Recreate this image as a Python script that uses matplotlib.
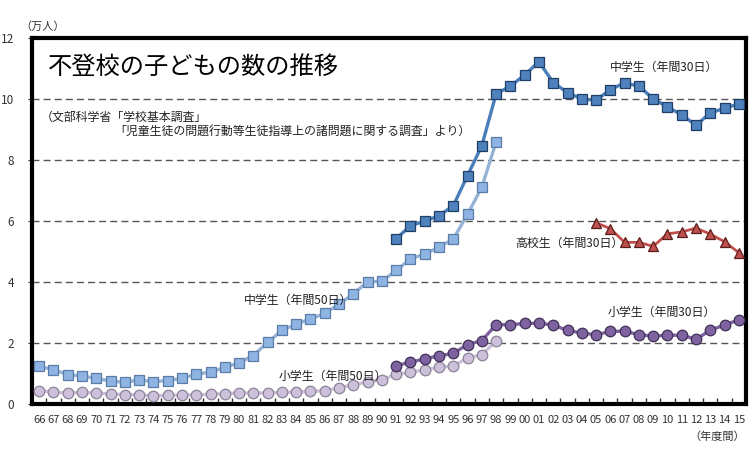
import matplotlib.pyplot as plt
from matplotlib.ticker import FixedLocator
import numpy as np

plt.rcParams['font.family'] = ['Noto Sans CJK JP', 'DejaVu Sans']

# 年度ラベル (1966〜2015)
years = ['66', '67', '68', '69', '70', '71', '72', '73', '74', '75',
         '76', '77', '78', '79', '80', '81', '82', '83', '84', '85',
         '86', '87', '88', '89', '90', '91', '92', '93', '94', '95',
         '96', '97', '98', '99', '00', '01', '02', '03', '04', '05',
         '06', '07', '08', '09', '10', '11', '12', '13', '14', '15']

# 中学生（年間50日） 1966-1998  単位：万人
jhs50 = [1.23, 1.13, 0.96, 0.92, 0.84, 0.75, 0.71, 0.79, 0.73, 0.77,
         0.84, 0.98, 1.04, 1.20, 1.35, 1.59, 2.02, 2.41, 2.62, 2.79,
         2.97, 3.27, 3.61, 4.01, 4.02, 4.38, 4.75, 4.92, 5.14, 5.41,
         6.22, 7.11, 8.59]
# 小学生（年間50日） 1966-1998
es50 = [0.44, 0.39, 0.36, 0.38, 0.36, 0.33, 0.31, 0.30, 0.27, 0.28,
        0.30, 0.30, 0.32, 0.34, 0.37, 0.36, 0.36, 0.38, 0.40, 0.41,
        0.44, 0.53, 0.63, 0.72, 0.80, 0.97, 1.04, 1.12, 1.20, 1.25,
        1.50, 1.62, 2.06]
# 中学生（年間30日） 1991-2015
jhs30 = [5.42, 5.84, 6.00, 6.17, 6.50, 7.49, 8.47, 10.17, 10.42, 10.79,
         11.22, 10.54, 10.21, 10.00, 9.96, 10.31, 10.53, 10.42, 10.01, 9.74,
         9.48, 9.14, 9.54, 9.70, 9.84]
# 小学生（年間30日） 1991-2015
es30 = [1.26, 1.37, 1.48, 1.58, 1.66, 1.95, 2.08, 2.60, 2.60, 2.64,
        2.65, 2.59, 2.41, 2.33, 2.27, 2.38, 2.39, 2.27, 2.23, 2.25,
        2.26, 2.12, 2.42, 2.59, 2.76]
# 高校生（年間30日） 2005-2015
hs30 = [5.94, 5.75, 5.30, 5.30, 5.17, 5.58, 5.64, 5.77, 5.57, 5.32, 4.96]

x_all = np.arange(len(years))
x50 = x_all[:len(jhs50)]
x30 = x_all[years.index('91'):]
xhs = x_all[years.index('05'):]

fig = plt.figure(figsize=(7.54, 4.54), dpi=100)
ax = fig.add_axes([32 / 754, 1 - 404 / 454, 714 / 754, 366 / 454])

for yv in [2, 4, 6, 8, 10]:
    ax.axhline(yv, color='#555555', lw=1.0, ls=(0, (5, 3)), zorder=1)

ax.plot(x50, jhs50, color='#95B3D7', lw=2.4, marker='s', ms=6.8,
        mfc='#8DB4E2', mec='#5A7CA6', mew=0.9, zorder=3)
ax.plot(x50, es50, color='#CCC0DA', lw=2.4, marker='o', ms=7.6,
        mfc='#CCC0DA', mec='#8A8296', mew=0.9, zorder=3)
ax.plot(x30, jhs30, color='#4A7EBB', lw=2.4, marker='s', ms=6.8,
        mfc='#4F81BD', mec='#1F3F66', mew=0.9, zorder=4)
ax.plot(x30, es30, color='#7F63A1', lw=2.4, marker='o', ms=7.6,
        mfc='#7F63A1', mec='#3F2F55', mew=0.9, zorder=4)
ax.plot(xhs, hs30, color='#C0504D', lw=2.0, marker='^', ms=7.8,
        mfc='#C0504D', mec='#5A1E1C', mew=0.9, zorder=4)

ax.set_xlim(-0.5, len(years) - 0.5)
ax.set_ylim(0, 12)
ax.set_yticks([0, 2, 4, 6, 8, 10, 12])
ax.set_xticks(x_all)
ax.set_xticklabels(years)
ax.xaxis.set_minor_locator(FixedLocator(x_all[:-1] + 0.5))
ax.tick_params(axis='x', which='major', length=0, labelsize=8, pad=8,
               colors='#333333')
ax.tick_params(axis='x', which='minor', direction='in', length=4,
               width=1, color='#333333')
ax.tick_params(axis='y', length=3, labelsize=8.5, pad=10, colors='#333333')

for sp in ax.spines.values():
    sp.set_linewidth(3)
    sp.set_color('black')

t = ax.transAxes
fig.text(20 / 754, 1 - 27 / 454, '（万人）', fontsize=8, va='center',
         color='#333333')
ax.text(0.022, 0.921, '不登校の子どもの数の推移', transform=t, fontsize=17.5,
        va='center', ha='left')
ax.text(0.012, 0.784, '（文部科学省「学校基本調査」', transform=t,
        fontsize=8.6, va='center', ha='left', color='#222222')
ax.text(0.115, 0.743, '「児童生徒の問題行動等生徒指導上の諸問題に関する調査」より）',
        transform=t, fontsize=8.6, va='center', ha='left', color='#222222')

lab = dict(fontsize=8.6, va='center', ha='center', color='#222222', zorder=5)
ax.text(43.75, 11.05, '中学生（年間30日）', **lab)
ax.text(18.1, 3.41, '中学生（年間50日）', **lab)
ax.text(37.1, 5.28, '高校生（年間30日）', **lab)
ax.text(43.6, 3.02, '小学生（年間30日）', **lab)
ax.text(20.6, 0.89, '小学生（年間50日）', **lab)
fig.text(745 / 754, 1 - 437 / 454, '（年度間）', fontsize=8, va='center',
         ha='right', color='#333333')

fig.savefig('out.png', dpi=100)
